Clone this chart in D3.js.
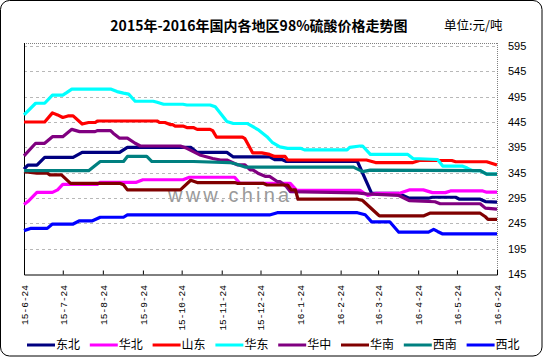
<!DOCTYPE html>
<html><head><meta charset="utf-8">
<script src="https://cdn.jsdelivr.net/npm/d3@7"></script>
<style>body{margin:0;background:#fff}svg{display:block}</style>
</head><body>
<script>
const title = "2015年-2016年国内各地区98%硫酸价格走势图";
const unitText = "单位:元/吨";
const watermark = "www.china";
const yTicks = [145, 195, 245, 295, 345, 395, 445, 495, 545, 595];
const xTickDates = ["2015-06-24","2015-07-24","2015-08-24","2015-09-24","2015-10-24","2015-11-24","2015-12-24","2016-01-24","2016-02-24","2016-03-24","2016-04-24","2016-05-24","2016-06-24"];
const xTickLabels = ["15-6-24","15-7-24","15-8-24","15-9-24","15-10-24","15-11-24","15-12-24","16-1-24","16-2-24","16-3-24","16-4-24","16-5-24","16-6-24"];
const seriesNames = ["东北","华北","山东","华东","华中","华南","西南","西北"];

const dongbei = [["2015-06-24",352],["2015-06-27",360],["2015-07-04",360],["2015-07-10",375],["2015-08-01",375],["2015-08-08",385],["2015-09-06",385],["2015-09-12",395],["2015-10-31",395],["2015-11-05",385],["2015-11-28",385],["2015-12-03",376],["2015-12-31",376],["2016-01-04",370.6],["2016-01-10",370.6],["2016-01-13",367],["2016-03-08",367],["2016-03-19",304],["2016-04-09",304],["2016-04-17",294.6],["2016-05-02",294.6],["2016-05-05",296.5],["2016-05-23",296.5],["2016-05-26",292.6],["2016-06-11",292.6],["2016-06-15",288],["2016-06-24",287]];
const huabei = [["2015-06-24",282],["2015-06-27",288],["2015-07-04",306],["2015-07-16",306],["2015-07-20",311],["2015-07-24",322],["2015-08-20",322],["2015-08-22",326],["2015-09-19",326],["2015-09-24",331],["2015-10-25",331],["2015-10-30",336],["2015-12-04",336],["2015-12-08",324],["2016-01-16",324],["2016-01-21",310],["2016-03-10",310],["2016-03-16",300],["2016-03-22",304],["2016-04-09",304],["2016-04-17",311],["2016-04-28",311],["2016-05-05",305.6],["2016-05-15",305.6],["2016-05-19",309],["2016-06-13",309],["2016-06-16",306.5],["2016-06-24",306.5]];
const shandong = [["2015-06-24",445],["2015-07-10",445],["2015-07-16",463],["2015-07-20",459],["2015-07-24",454],["2015-07-28",457],["2015-08-01",457],["2015-08-08",441],["2015-08-13",444],["2015-08-18",444],["2015-08-20",447],["2015-10-05",447],["2015-10-07",444],["2015-10-11",444],["2015-10-15",440],["2015-10-17",440],["2015-10-19",437],["2015-10-25",437],["2015-10-28",434],["2015-11-02",434],["2015-11-05",430.5],["2015-11-15",430.5],["2015-11-17",428],["2015-11-20",415],["2015-12-10",415],["2015-12-12",412],["2015-12-18",384],["2015-12-25",384],["2015-12-31",381],["2016-01-04",377],["2016-01-12",377],["2016-01-14",370],["2016-03-15",370],["2016-03-22",365],["2016-04-20",365],["2016-04-25",369],["2016-05-20",369],["2016-05-23",366.5],["2016-06-16",366.5],["2016-06-24",360]];
const huadong = [["2015-06-24",459],["2015-07-03",482],["2015-07-10",482],["2015-07-16",498],["2015-07-24",498],["2015-07-27",503],["2015-07-31",510],["2015-08-30",510],["2015-09-04",505],["2015-09-09",502],["2015-09-13",500],["2015-09-18",486],["2015-10-02",486],["2015-10-05",484],["2015-10-10",480],["2015-10-25",480],["2015-10-28",478.6],["2015-11-15",478.6],["2015-11-19",475],["2015-11-28",446],["2015-12-03",442],["2015-12-14",442],["2015-12-22",430],["2015-12-29",416],["2016-01-02",405],["2016-01-08",396],["2016-01-14",393],["2016-01-24",393],["2016-01-27",390],["2016-02-29",390],["2016-03-02",395],["2016-03-10",397.6],["2016-03-12",397.6],["2016-03-18",381],["2016-04-16",381],["2016-04-20",373],["2016-05-09",371],["2016-05-13",358],["2016-05-28",358],["2016-06-01",354],["2016-06-05",349],["2016-06-11",349],["2016-06-16",342],["2016-06-24",342]];
const huazhong = [["2015-06-24",378],["2015-07-03",403],["2015-07-10",403],["2015-07-16",416],["2015-07-24",416],["2015-07-31",430.5],["2015-08-06",426],["2015-08-18",426],["2015-08-20",428],["2015-08-30",428],["2015-09-01",423],["2015-09-06",413],["2015-09-12",413],["2015-09-18",403],["2015-09-22",397.6],["2015-10-23",397.6],["2015-10-28",393],["2015-11-07",380],["2015-11-17",373],["2015-11-23",370],["2015-11-28",370],["2015-12-06",360.5],["2015-12-12",360.5],["2015-12-16",350.5],["2015-12-18",350.5],["2015-12-22",344],["2015-12-28",337.6],["2015-12-31",337.6],["2016-01-06",327.5],["2016-01-08",327.5],["2016-01-13",317.6],["2016-01-16",307.7],["2016-03-08",305],["2016-03-15",303],["2016-04-09",300],["2016-04-17",290],["2016-05-07",287.6],["2016-05-11",283.7],["2016-06-11",283.7],["2016-06-15",275],["2016-06-24",273]];
const huanan = [["2015-06-24",347],["2015-07-04",344],["2015-07-12",344],["2015-07-14",340.6],["2015-07-23",340.6],["2015-07-30",324],["2015-09-06",324],["2015-09-09",321],["2015-09-12",311],["2015-10-23",311],["2015-10-31",330],["2015-11-05",325.5],["2015-12-04",325.5],["2015-12-06",324],["2015-12-26",324],["2015-12-29",320.7],["2016-01-14",320.7],["2016-01-17",311],["2016-01-20",311],["2016-01-22",292.6],["2016-03-08",292.6],["2016-03-12",290],["2016-03-24",262],["2016-03-25",259.6],["2016-04-28",259.6],["2016-05-03",265],["2016-06-11",265],["2016-06-15",258],["2016-06-17",253],["2016-06-24",253]];
const xinan = [["2015-06-24",349],["2015-08-13",349],["2015-08-22",367],["2015-09-09",367],["2015-09-12",377],["2015-09-27",377],["2015-10-01",367],["2015-11-02",367],["2015-11-30",365],["2015-12-05",362],["2015-12-12",356],["2016-03-05",356],["2016-03-12",347],["2016-03-18",350],["2016-06-11",349],["2016-06-16",342],["2016-06-24",342]];
const xibei = [["2015-06-24",230.6],["2015-06-29",235],["2015-07-12",235],["2015-07-16",243.6],["2015-08-01",243.6],["2015-08-06",250],["2015-08-16",250],["2015-08-22",257],["2015-09-09",257],["2015-09-12",261.6],["2015-12-31",261.6],["2016-01-06",266],["2016-03-08",266],["2016-03-14",262],["2016-03-19",248],["2016-04-02",248],["2016-04-09",227.5],["2016-05-02",227.5],["2016-05-06",233],["2016-05-09",229],["2016-05-13",224],["2016-06-24",224]];

const seriesData = [dongbei, huabei, shandong, huadong, huazhong, huanan, xinan, xibei];
const colors = ["#000080","#ff00ff","#ff0000","#00ffff","#800080","#800000","#008080","#0000ff"];

const W = 543, H = 357;
const parse = d3.utcParse("%Y-%m-%d");
const svg = d3.select("body").append("svg").attr("width", W).attr("height", H);
svg.append("rect").attr("x",0.5).attr("y",0.5).attr("width",W-1.5).attr("height",H-1.5)
  .attr("rx",9).attr("fill","#fff").attr("stroke","#000").attr("stroke-width",1);

const pLeft = 24, pRight = 497, pTop = 43, pBottom = 274;
const x = d3.scaleUtc().domain([parse("2015-06-24"), parse("2016-06-24")]).range([pLeft, pRight]);
const y = d3.scaleLinear().domain([145, 595]).range([pBottom, 46]);

// gridlines
svg.append("g").selectAll("line").data(yTicks.filter(v => v > 145)).join("line")
  .attr("x1", pLeft).attr("x2", pRight).attr("y1", d => Math.round(y(d)) + 0.5).attr("y2", d => Math.round(y(d)) + 0.5)
  .attr("stroke", "#b8b8b8").attr("stroke-dasharray", "3,3");

// frame: top & right dotted
svg.append("line").attr("x1",pLeft).attr("x2",pRight).attr("y1",pTop+0.5).attr("y2",pTop+0.5)
  .attr("stroke","#808080").attr("stroke-dasharray","1,1");
svg.append("line").attr("x1",pRight+0.5).attr("x2",pRight+0.5).attr("y1",pTop).attr("y2",pBottom)
  .attr("stroke","#808080").attr("stroke-dasharray","1,1");

// watermark
svg.append("text").attr("x",168).attr("y",202).text(watermark)
  .attr("font-family","Liberation Sans, Arial, sans-serif").attr("font-size",20)
  .attr("letter-spacing",3.2).attr("fill","#9a9a9a");

// bottom axis with inward ticks
const xAxis = d3.axisBottom(x).tickValues(xTickDates.map(parse)).tickSize(-4).tickFormat("");
const gx = svg.append("g").attr("transform", `translate(0,${pBottom + 0.5})`).call(xAxis);
gx.select(".domain").attr("stroke","#000");
gx.selectAll(".tick line").attr("stroke","#000");
svg.append("g").selectAll("text").data(xTickDates).join("text")
  .attr("transform", d => `translate(${x(parse(d)) + 0.5},${pBottom + 11}) rotate(-90)`)
  .attr("text-anchor","end").attr("dy","0.35em")
  .attr("font-family","Liberation Mono, DejaVu Sans Mono, monospace").attr("font-size",9.5)
  .attr("fill","#000").text((d, i) => xTickLabels[i]);

// left axis line
svg.append("line").attr("x1",pLeft+0.5).attr("x2",pLeft+0.5).attr("y1",pTop).attr("y2",pBottom+1)
  .attr("stroke","#000");

// right axis labels
const yAxis = d3.axisRight(y).tickValues(yTicks).tickSize(0).tickPadding(11);
const gy = svg.append("g").attr("transform", `translate(${pRight},0)`).call(yAxis);
gy.select(".domain").remove();
gy.selectAll("text").attr("font-family","Liberation Sans, Arial, sans-serif").attr("font-size",11).attr("fill","#000");
svg.append("line").attr("x1",pRight+0.5).attr("x2",pRight+0.5).attr("y1",pBottom-4).attr("y2",pBottom+1).attr("stroke","#000");

// series lines
const line = d3.line().x(d => x(parse(d[0]))).y(d => y(d[1]));
svg.append("g").selectAll("path").data(seriesData).join("path")
  .attr("d", line).attr("fill","none").attr("stroke", (d, i) => colors[i])
  .attr("stroke-width", 3.2).attr("stroke-linejoin","round");

// title
svg.append("text").attr("x",259).attr("y",26).attr("dy","0.35em").attr("text-anchor","middle")
  .attr("font-family","Noto Sans CJK SC, sans-serif").attr("font-size",14).attr("font-weight","bold")
  .text(title);
svg.append("text").attr("x",444).attr("y",26).attr("dy","0.35em")
  .attr("font-family","Noto Sans CJK SC, sans-serif").attr("font-size",12.5)
  .text(unitText);

// legend
const lg = svg.append("g").selectAll("g").data(seriesNames).join("g")
  .attr("transform", (d, i) => `translate(${27 + i * 62.8},345)`);
lg.append("line").attr("x1",0).attr("x2",28).attr("y1",0).attr("y2",0)
  .attr("stroke", (d, i) => colors[i]).attr("stroke-width",3);
lg.append("text").attr("x",29).attr("dy","0.35em")
  .attr("font-family","Noto Sans CJK SC, sans-serif").attr("font-size",12).text(d => d);
</script>
</body></html>
